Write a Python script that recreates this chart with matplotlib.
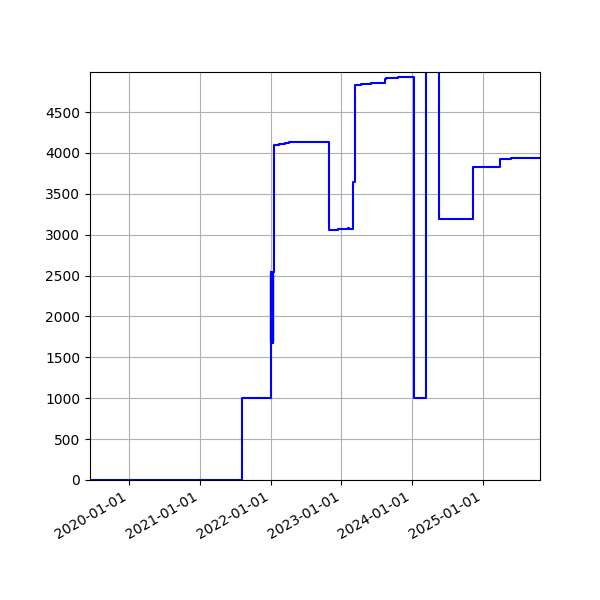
import matplotlib
matplotlib.use("Agg")
import matplotlib.pyplot as plt
import matplotlib.dates as mdates
from matplotlib.ticker import MultipleLocator
import pandas as pd

dates = [
    "2019-06-12", "2021-08-05",
    "2022-01-01", "2022-01-02", "2022-01-03", "2022-01-04", "2022-01-05",
    "2022-01-06", "2022-01-07", "2022-01-08", "2022-01-09", "2022-01-10",
    "2022-01-11", "2022-01-12", "2022-01-13", "2022-01-14",
    "2022-01-15", "2022-01-16", "2022-01-19", "2022-02-12", "2022-03-15",
    "2022-04-06", "2022-10-28", "2022-12-17", "2023-02-04", "2023-02-10",
    "2023-03-04", "2023-03-11", "2023-04-14", "2023-06-05", "2023-08-13",
    "2023-08-22", "2023-10-20", "2024-01-14", "2024-03-15", "2024-05-19",
    "2024-11-10", "2025-04-02", "2025-05-27", "2025-10-24",
]
values = [
    0, 1000,
    2540, 1680, 2520, 1700, 2500,
    1690, 2530, 1750, 2480, 1690,
    2540, 1700, 2520, 1680,
    2540, 3650, 4095, 4108, 4116,
    4135, 3060, 3073, 3080, 3075,
    3640, 4829, 4841, 4853, 4902,
    4914, 4930, 1000, 6500, 3187,
    3823, 3921, 3941, 3941,
]

x = pd.to_datetime(dates)

fig, ax = plt.subplots(figsize=(6, 6), dpi=100)
ax.plot(x, values, color="blue", drawstyle="steps-post")
ax.set_xlim(x[0], x[-1])
ax.set_ylim(0, 4990)
ax.yaxis.set_major_locator(MultipleLocator(500))
ax.xaxis.set_major_locator(mdates.YearLocator())
ax.xaxis.set_major_formatter(mdates.DateFormatter("%Y-%m-%d"))
ax.grid(True)
fig.autofmt_xdate()
fig.subplots_adjust(left=0.15, right=0.9, top=0.88, bottom=0.2)
fig.savefig("out.png", dpi=100)
